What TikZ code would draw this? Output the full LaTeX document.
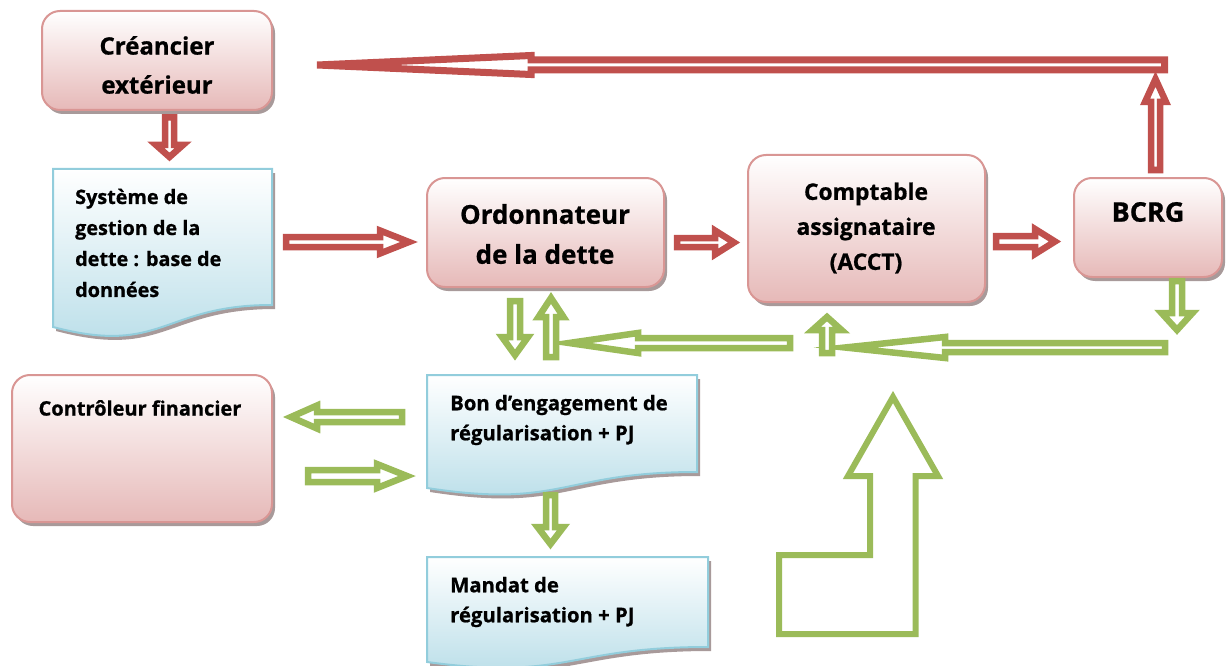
\documentclass[tikz,border=0pt]{standalone}
\usepackage{fontspec}
\setmainfont{Open Sans}[BoldFeatures={FakeBold=0.8}]
\usetikzlibrary{shadows}
\definecolor{arrred}{HTML}{C0504D}
\definecolor{arrgreen}{HTML}{9BBB59}
\definecolor{pinkline}{HTML}{D99694}
\definecolor{pinkfill}{HTML}{E6B9B8}
\definecolor{docline}{HTML}{92CDDC}
\definecolor{docfill}{HTML}{B7DDE8}
\definecolor{shadowc}{HTML}{A89A9A}
\newcommand\harrow[7]{%
  \draw[#1] (#2,{#5-#6}) -- (#3,{#5-#6}) -- (#3,{#5-#7}) -- (#4,#5) -- (#3,{#5+#7}) -- (#3,{#5+#6}) -- (#2,{#5+#6}) -- cycle;}
\newcommand\varrow[7]{%
  \draw[#1] ({#5-#6},#2) -- ({#5-#6},#3) -- ({#5-#7},#3) -- (#5,#4) -- ({#5+#7},#3) -- ({#5+#6},#3) -- ({#5+#6},#2) -- cycle;}
\tikzset{
  pinkbox/.style={draw=pinkline, line width=2pt, rounded corners=18pt,
    top color=white, bottom color=pinkfill, inner sep=0pt,
    drop shadow={shadow xshift=3pt, shadow yshift=-4pt, fill=shadowc, opacity=1}},
  docbox/.style={draw=docline, line width=2pt, top color=white, bottom color=docfill,
    drop shadow={shadow xshift=3pt, shadow yshift=-4pt, fill=shadowc, opacity=1}},
  txt/.style={inner sep=0pt, font=\bfseries},
  redarr/.style={draw=arrred, fill=white, line width=6.5pt},
  greenarr/.style={draw=arrgreen, fill=white, line width=6.5pt},
}
\begin{document}
\begin{tikzpicture}[x=1pt,y=-1pt]
\useasboundingbox (0,0) rectangle (1229,666);

% boxes
\node[pinkbox, minimum width=230pt, minimum height=99pt] (cre) at (157,60.5) {};
\node[pinkbox, minimum width=237pt, minimum height=109pt] (ord) at (545.5,232.5) {};
\node[pinkbox, minimum width=237pt, minimum height=147pt] (cpt) at (866.5,228.5) {};
\node[pinkbox, minimum width=148pt, minimum height=99pt] (bcrg) at (1148,227.5) {};
\node[pinkbox, minimum width=260pt, minimum height=147pt] (ctrl) at (142,448.5) {};

\path[docbox] (53,169) -- (272,169) -- (272,305) .. controls (162.5,305) and (162.5,356) .. (53,327) -- cycle;
\path[docbox] (427,375) -- (697,375) -- (697,472) .. controls (562,472) and (562,509) .. (427,488) -- cycle;
\path[docbox] (427,557) -- (708,557) -- (708,647) .. controls (567.5,647) and (567.5,681) .. (427,662) -- cycle;

% texts
\node[txt, font=\fontsize{24}{39}\selectfont\bfseries, align=center] (cretxt) at (157,65) {Créancier\\extérieur};
\node[txt, font=\fontsize{19.8}{31}\selectfont\bfseries, align=left, anchor=west] (systxt) at (75,243) {Système de\\gestion de la\\dette : base de\\données};
\node[txt, font=\fontsize{26}{40}\selectfont\bfseries, align=center] (ordtxt) at (545,234) {Ordonnateur\\de la dette};
\node[txt, font=\fontsize{22.8}{35}\selectfont\bfseries, align=center] (cpttxt) at (866,228) {Comptable\\assignataire\\(ACCT)};
\node[txt, font=\fontsize{27}{30}\selectfont\bfseries] (bcrgtxt) at (1148,212) {BCRG};
\node[txt, font=\fontsize{20}{30}\selectfont\bfseries] (ctrltxt) at (140,408) {Contrôleur financier};
\node[txt, font=\fontsize{20.3}{30}\selectfont\bfseries, align=left, anchor=west] (bontxt) at (450,420) {Bon d’engagement de\\régularisation + PJ};
\node[txt, font=\fontsize{20.3}{30}\selectfont\bfseries, align=left, anchor=west] (mantxt) at (450,602) {Mandat de\\régularisation + PJ};

% red arrows
\varrow{redarr}{117.5}{145}{157}{169.5}{4.5}{13.5}
\varrow{redarr}{170}{102}{79}{1155.5}{4.5}{10.5}
\harrow{redarr, line width=7pt}{1164.5}{531}{317}{65}{5}{9.5}
\harrow{redarr}{286}{380}{409}{242}{5}{11.5}
\harrow{redarr}{677}{715}{734}{242.5}{4.5}{12}
\harrow{redarr}{996}{1035}{1055}{241.5}{5.5}{12.5}

% green arrows
\varrow{greenarr}{281}{313}{330}{1177}{5}{15.5}
\harrow{greenarr}{1165}{945}{845}{347.5}{4.5}{10.5}
\varrow{greenarr}{353}{330}{317}{827}{5}{14.5}
\harrow{greenarr}{790}{638}{569}{343}{5}{10}
\varrow{greenarr}{301}{337}{355}{515}{5}{13}
\varrow{greenarr}{357}{317}{298}{551}{5}{12.5}
\harrow{greenarr}{402}{317}{291}{417}{5}{11.5}
\harrow{greenarr}{308}{377}{407}{476}{6}{12}
\varrow{greenarr}{495}{527}{544}{550.5}{4.5}{13}
\draw[greenarr, line width=6pt] (893,397) -- (938,476) -- (915.5,476) -- (915.5,634) -- (779,634) -- (779,555) -- (870,555) -- (870,476) -- (848,476) -- cycle;
\end{tikzpicture}
\end{document}
